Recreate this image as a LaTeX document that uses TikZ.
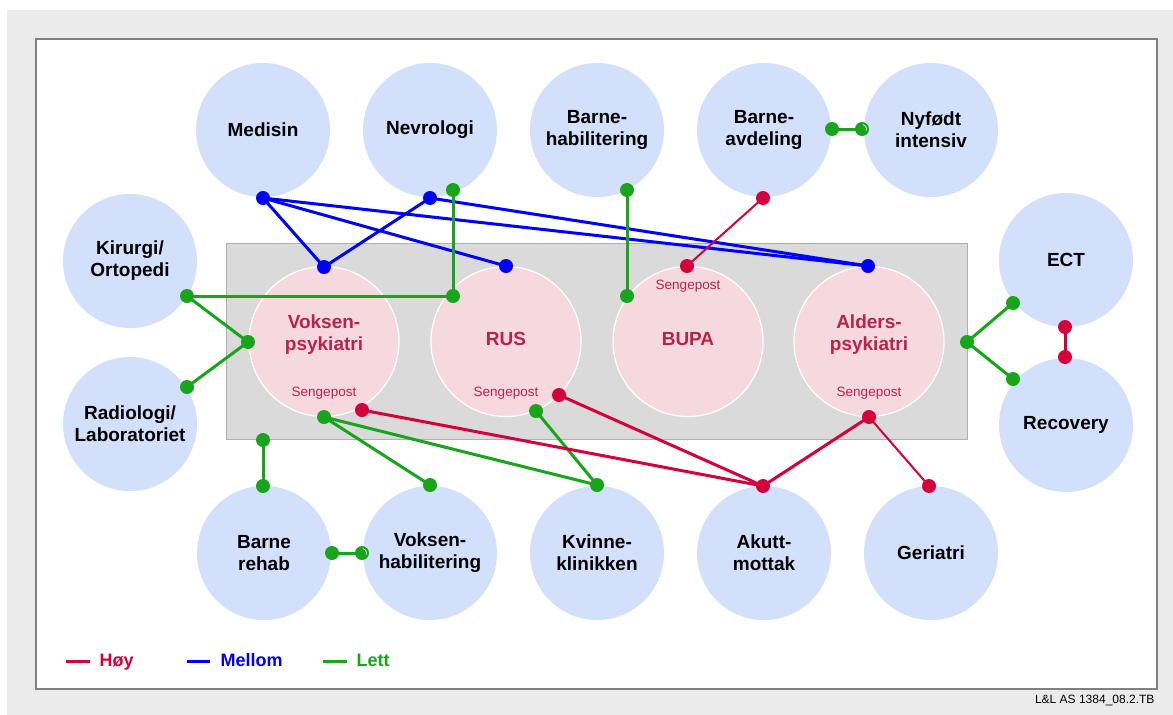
\documentclass[tikz,border=0pt]{standalone}
\usepackage{fontspec}
\setmainfont{Liberation Sans}
\definecolor{pagegray}{HTML}{EBEBEB}
\definecolor{framegray}{HTML}{808080}
\definecolor{unitblue}{HTML}{D3E0FC}
\definecolor{wardpink}{HTML}{F6D8DF}
\definecolor{wardtext}{HTML}{B8234A}
\definecolor{wardgray}{HTML}{DADADA}
\definecolor{wardedge}{HTML}{AFAFAF}
\definecolor{hoy}{HTML}{D5003B}
\definecolor{mellom}{HTML}{0000FF}
\definecolor{lett}{HTML}{18A51C}
\begin{document}
\begin{tikzpicture}[x=1pt,y=-1pt,
  unit/.style={circle, fill=unitblue, minimum size=134pt, inner sep=0pt,
    align=center, font=\bfseries\fontsize{19}{22}\selectfont},
  ward/.style={circle, fill=wardpink, draw=white, line width=1.2pt,
    minimum size=150pt, inner sep=0pt},
  wardlabel/.style={align=center, text=wardtext,
    font=\bfseries\fontsize{19}{22}\selectfont},
  senge/.style={anchor=base, text=wardtext, font=\fontsize{13.5}{15}\selectfont},
  link/.style={line width=3pt, line join=round},
  thinlink/.style={line width=2pt},
  dot/.style={circle, fill=#1, inner sep=0pt, minimum size=14pt},
  legtext/.style={anchor=base west, font=\bfseries\fontsize{18}{20}\selectfont}]
\useasboundingbox (0,0) rectangle (1173,715);

% page and frame
\fill[pagegray] (7,10) rectangle (1173,715);
\draw[fill=white, draw=framegray, line width=2.5pt] (36,39) rectangle (1157,689);

% hospital units
\node[unit] (medisin)  at (263,130) {Medisin};
\node[unit] (nevro)    at (430,130) {Nevrologi};
\node[unit] (bhab)     at (597,130) {Barne-\\habilitering};
\node[unit] (bavd)     at (764,130) {Barne-\\avdeling};
\node[unit] (nyfodt)   at (931,130) {Nyfødt\\intensiv};
\node[unit] (kirurgi)  at (130,261) {Kirurgi/\\Ortopedi};
\node[unit] (radio)    at (130,424) {Radiologi/\\Laboratoriet};
\node[unit] (ect)      at (1066,260) {ECT};
\node[unit] (recovery) at (1066,425) {Recovery};
\node[unit] (brehab)   at (264,553) {Barne\\rehab};
\node[unit] (vhab)     at (430,553) {Voksen-\\habilitering};
\node[unit] (kvinne)   at (597,553) {Kvinne-\\klinikken};
\node[unit] (akutt)    at (764,553) {Akutt-\\mottak};
\node[unit] (geriatri) at (931,553) {Geriatri};

% psychiatry block
\node[fill=wardgray, draw=wardedge, line width=1pt, minimum width=741pt,
  minimum height=196pt, inner sep=0pt] (block) at (596.5,341) {};
\node[ward] (vp)   at (324,341.5) {};
\node[ward] (rus)  at (506,341.5) {};
\node[ward] (bupa) at (688,341.5) {};
\node[ward] (ap)   at (869,341.5) {};
\node[wardlabel] at (324,335) {Voksen-\\psykiatri};
\node[wardlabel] at (506,339) {RUS};
\node[wardlabel] at (688,339) {BUPA};
\node[wardlabel] at (869,335) {Alders-\\psykiatri};
\node[senge] at (324,396) {Sengepost};
\node[senge] at (506,396) {Sengepost};
\node[senge] at (688,289) {Sengepost};
\node[senge] at (869,396) {Sengepost};

% connection points
\coordinate (mB) at (263,198);   \coordinate (nB) at (430,198);
\coordinate (vpB) at (324,267);  \coordinate (rusB) at (506,266);
\coordinate (apB) at (868,266);
\coordinate (nG) at (453,190);   \coordinate (jG) at (453,296);
\coordinate (kG) at (187,296);   \coordinate (vpL) at (248,342);
\coordinate (rG) at (187,387);   \coordinate (bhG) at (627,190);
\coordinate (bupaG) at (627,296);
\coordinate (baG) at (832,129);  \coordinate (nyG) at (862,129);
\coordinate (wrG) at (263,440);  \coordinate (brG) at (263,486);
\coordinate (brR) at (332,553);  \coordinate (vhL) at (362,553);
\coordinate (vpG) at (324,417);  \coordinate (vhG) at (430,485);
\coordinate (kvG) at (597,485);  \coordinate (rusG) at (536,411);
\coordinate (apR) at (967,342);  \coordinate (ectG) at (1013,303);
\coordinate (recG) at (1013,379);
\coordinate (baR) at (763,198);  \coordinate (bupaR) at (687,266);
\coordinate (vpR) at (362,410);  \coordinate (rusR) at (559,395);
\coordinate (apBot) at (869,417);\coordinate (akR) at (763,486);
\coordinate (geR) at (929,486);
\coordinate (ectR) at (1065,327);\coordinate (recR) at (1065,357);

% Mellom
\draw[link, mellom] (mB) -- (vpB);
\draw[link, mellom] (mB) -- (rusB);
\draw[link, mellom] (mB) -- (apB);
\draw[link, mellom] (nB) -- (vpB);
\draw[link, mellom] (nB) -- (apB);

% Lett
\draw[link, lett] (nG) -- (jG) -- (kG);
\draw[link, lett] (kG) -- (vpL);
\draw[link, lett] (rG) -- (vpL);
\draw[link, lett] (bhG) -- (bupaG);
\draw[link, lett] (baG) -- (nyG);
\draw[link, lett] (wrG) -- (brG);
\draw[link, lett] (brR) -- (vhL);
\draw[link, lett] (vpG) -- (vhG);
\draw[link, lett] (vpG) -- (kvG);
\draw[link, lett] (rusG) -- (kvG);
\draw[link, lett] (apR) -- (ectG);
\draw[link, lett] (apR) -- (recG);

% Høy
\draw[thinlink, hoy] (baR) -- (bupaR);
\draw[link, hoy] (vpR) -- (akR);
\draw[link, hoy] (rusR) -- (akR);
\draw[link, hoy] (apBot) -- (akR);
\draw[thinlink, hoy] (apBot) -- (geR);
\draw[link, hoy] (ectR) -- (recR);

% end dots
\foreach \p in {mB,nB,vpB,rusB,apB}
  \node[dot=mellom] (dot-\p) at (\p) {};
\foreach \p in {nG,jG,kG,vpL,rG,bhG,bupaG,baG,nyG,wrG,brG,brR,vhL,vpG,vhG,kvG,rusG,apR,ectG,recG}
  \node[dot=lett] (dot-\p) at (\p) {};
\foreach \p in {baR,bupaR,vpR,rusR,apBot,akR,geR,ectR,recR}
  \node[dot=hoy] (dot-\p) at (\p) {};
% small sheen on the joined dots
\foreach \p in {nyG,vhL}
  \draw[white, line width=0.7pt] ([shift={(20:4.5)}]\p) arc[start angle=20, end angle=-80, radius=4.5];

% legend
\draw[link, hoy] (66,661) -- (90,661);
\node[legtext, text=hoy] (lh) at (96,666) {Høy};
\draw[link, mellom] (187,661) -- (210,661);
\node[legtext, text=mellom] (lm) at (217,666) {Mellom};
\draw[link, lett] (323,661) -- (347,661);
\node[legtext, text=lett] (ll) at (353,666) {Lett};

% reference tag
\node[anchor=base east, font=\fontsize{12}{14}\selectfont] (tag) at (1158,703) {L\&L AS 1384\_08.2.TB};
\end{tikzpicture}
\end{document}
